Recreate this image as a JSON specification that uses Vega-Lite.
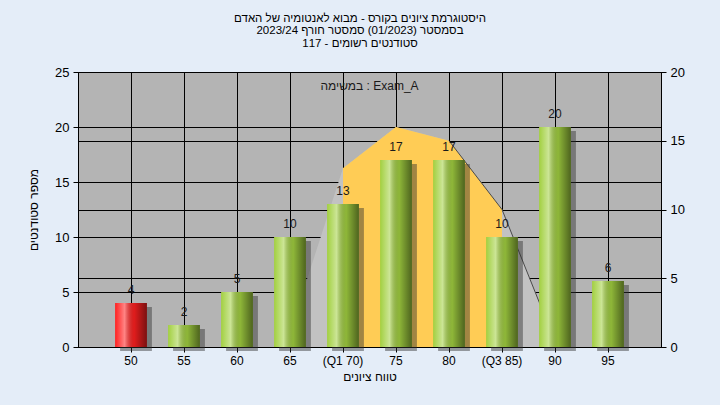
{
  "$schema": "https://vega.github.io/schema/vega-lite/v6.json",
  "width": 583,
  "height": 275,
  "autosize": {"type": "none"},
  "padding": {"left": 78, "top": 72, "right": 59, "bottom": 58},
  "background": "#e4edf8",
  "config": {
    "font": "Liberation Sans",
    "view": {"stroke": "black", "fill": "#b4b4b4", "strokeWidth": 1},
    "axis": {
      "domainColor": "black",
      "tickColor": "black",
      "gridColor": "black",
      "gridOpacity": 1,
      "labelColor": "#000000",
      "titleColor": "#000000",
      "titleFontWeight": "normal",
      "labelFont": "Liberation Sans",
      "titleFont": "Liberation Sans"
    }
  },
  "title": {
    "text": ["היסטוגרמת ציונים בקורס - מבוא לאנטומיה של האדם", "בסמסטר  (01/2023)  סמסטר חורף  2023/24", "סטודנטים רשומים - 117"],
    "fontSize": 11.5,
    "fontWeight": "normal",
    "color": "#000000",
    "anchor": "middle",
    "dx": -9.5,
    "offset": 17,
    "lineHeight": 12.5
  },
  "data": {
    "values": [
      {"label": "50", "count": 4, "status": "fail", "curve": null, "seg": "none"},
      {"label": "55", "count": 2, "status": "pass", "curve": null, "seg": "none"},
      {"label": "60", "count": 5, "status": "pass", "curve": null, "seg": "none"},
      {"label": "65", "count": 10, "status": "pass", "curve": 1.1, "seg": "lowtail"},
      {"label": "(Q1 70)", "count": 13, "status": "pass", "curve": 13, "seg": "iqr"},
      {"label": "75", "count": 17, "status": "pass", "curve": 16, "seg": "iqr"},
      {"label": "80", "count": 17, "status": "pass", "curve": 15, "seg": "iqr-edge"},
      {"label": "(Q3 85)", "count": 10, "status": "pass", "curve": 10, "seg": "iqr-edge"},
      {"label": "90", "count": 20, "status": "pass", "curve": 0.4, "seg": "hightail"},
      {"label": "95", "count": 6, "status": "pass", "curve": null, "seg": "none"}
    ]
  },
  "encoding": {
    "x": {
      "field": "label",
      "type": "nominal",
      "sort": null,
      "scale": {
        "domain": ["50", "55", "60", "65", "(Q1 70)", "75", "80", "(Q3 85)", "90", "95"],
        "paddingInner": 0.4,
        "paddingOuter": 0.7
      },
      "axis": {
        "title": "טווח ציונים",
        "labelAngle": 0,
        "grid": true,
        "bandPosition": 0.5,
        "labelFontSize": 12,
        "titleFontSize": 12,
        "labelPadding": 3,
        "titlePadding": 5,
        "tickSize": 5
      }
    }
  },
  "layer": [
    {
      "transform": [{"filter": "datum.seg !== 'none'"}],
      "encoding": {
        "y": {
          "field": "curve",
          "type": "quantitative",
          "scale": {"domain": [0, 20], "nice": false},
          "axis": {
            "orient": "right",
            "values": [0, 5, 10, 15, 20],
            "grid": true,
            "title": null,
            "labelFontSize": 13,
            "labelPadding": 4,
            "tickSize": 5
          }
        }
      },
      "layer": [
        {"mark": {"type": "area", "color": "#c2c2c2"}},
        {
          "transform": [{"filter": "datum.seg === 'iqr' || datum.seg === 'iqr-edge'"}],
          "mark": {"type": "area", "color": "#ffcc55"}
        },
        {
          "transform": [{"filter": "datum.seg === 'iqr-edge' || datum.seg === 'hightail'"}],
          "mark": {"type": "line", "color": "#4a4a4a", "strokeWidth": 1}
        }
      ]
    },
    {
      "encoding": {
        "y": {
          "field": "count",
          "type": "quantitative",
          "scale": {"domain": [0, 25], "nice": false},
          "axis": {
            "orient": "left",
            "values": [0, 5, 10, 15, 20, 25],
            "grid": true,
            "title": "מספר סטודנטים",
            "titleFontSize": 12,
            "titlePadding": 14,
            "labelFontSize": 13,
            "labelPadding": 4,
            "tickSize": 5
          }
        }
      },
      "layer": [
        {
          "mark": {"type": "bar", "xOffset": 5, "yOffset": 4, "color": "#2e2e2e", "opacity": 0.45}
        },
        {
          "mark": {"type": "bar"},
          "encoding": {
            "color": {
              "field": "status",
              "type": "nominal",
              "scale": {"domain": ["pass", "fail"], "range": ["#a2d040", "#ff2020"]},
              "legend": null
            }
          }
        },
        {
          "mark": {
            "type": "bar",
            "fill": {
              "gradient": "linear", "x1": 0, "x2": 1, "y1": 0, "y2": 0,
              "stops": [
                {"offset": 0, "color": "rgba(255,255,255,0)"},
                {"offset": 0.3, "color": "rgba(255,255,255,0.45)"},
                {"offset": 0.6, "color": "rgba(0,0,0,0.12)"},
                {"offset": 1, "color": "rgba(0,0,0,0.52)"}
              ]
            }
          }
        },
        {
          "mark": {"type": "text", "baseline": "bottom", "dy": -6, "fontSize": 12, "color": "#1a1a1a"},
          "encoding": {"text": {"field": "count", "type": "quantitative"}}
        },
        {
          "data": {"values": [{"note": "במשימה : Exam_A"}]},
          "mark": {"type": "text", "fontSize": 12, "color": "#1a1a1a", "baseline": "middle", "align": "center"},
          "encoding": {
            "x": {"value": {"expr": "width/2"}},
            "y": {"value": {"expr": "height*0.05"}},
            "text": {"field": "note", "type": "nominal"}
          }
        }
      ]
    }
  ],
  "resolve": {"scale": {"y": "independent"}}
}
